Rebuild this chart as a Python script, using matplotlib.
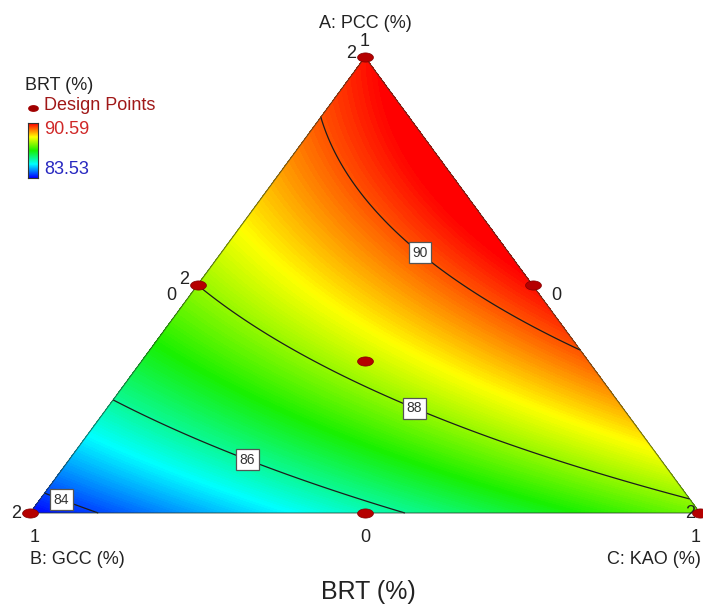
import numpy as np
import matplotlib
matplotlib.use("Agg")
import matplotlib.pyplot as plt
import matplotlib.tri as mtri
from matplotlib.colors import LinearSegmentedColormap, Normalize

plt.rcParams["font.family"] = ["Liberation Sans", "DejaVu Sans"]

# design points: fractions of A (PCC), B (GCC), C (KAO) and BRT (%)
pt_A = [1.0, 0.0, 0.0, 0.5, 0.5, 0.0, 1 / 3]
pt_B = [0.0, 1.0, 0.0, 0.5, 0.0, 0.5, 1 / 3]
pt_C = [0.0, 0.0, 1.0, 0.0, 0.5, 0.5, 1 / 3]
pt_brt = [90.45, 83.53, 87.75, 88.0, 90.5, 85.75, 88.3]
pt_reps = [2, 2, 2, 2, 1, 1, 1]

brt_min, brt_max = 83.53, 90.59
contour_levels = [84, 86, 88, 90]
label_spots_px = [(64, 493), (250, 453), (417, 402), (424, 248)]  # where the boxed labels sit

# quadratic Scheffe model from vertices + edge midpoints
yA, yB, yC, yAB, yAC, yBC = pt_brt[:6]
bAB = 4 * yAB - 2 * (yA + yB)
bAC = 4 * yAC - 2 * (yA + yC)
bBC = 4 * yBC - 2 * (yB + yC)


def brt(a, b, c):
    return yA * a + yB * b + yC * c + bAB * a * b + bAC * a * c + bBC * b * c


# image px -> data (B at (0,0), C at (1,0), A at (0.5,1))
X0, X1, YB, YT = 30, 700, 513, 57
W, H = 703, 606


def px2data(px, py):
    return (px - X0) / (X1 - X0), (YB - py) / (YB - YT)


n = 120
aa, bb = [], []
for i in range(n + 1):
    for j in range(n + 1 - i):
        aa.append(i / n)
        bb.append(j / n)
aa = np.array(aa)
bb = np.array(bb)
cc = 1 - aa - bb
gx = cc + aa / 2
gy = aa
z = brt(aa, bb, cc)
tri = mtri.Triangulation(gx, gy)

cmap = LinearSegmentedColormap.from_list(
    "de", ["#0000ff", "#00ffff", "#18f000", "#ffff00", "#ff0000"])
norm = Normalize(brt_min, brt_max)

fig = plt.figure(figsize=(W / 100, H / 100), dpi=100)
ax = fig.add_axes([0, 0, 1, 1])
ax.set_xlim(*[px2data(p, 0)[0] for p in (0, W)])
ax.set_ylim(px2data(0, H)[1], px2data(0, 0)[1])
ax.axis("off")

ax.tricontourf(tri, z, levels=np.linspace(z.min(), z.max(), 160), cmap=cmap, norm=norm)
cs = ax.tricontour(tri, z, levels=contour_levels, colors="#1c1c1c", linewidths=0.9)
labels = ax.clabel(cs, fmt="%d", inline=False, fontsize=10,
                   manual=[px2data(*p) for p in label_spots_px])
for t in labels:
    t.set_rotation(0)
    t.set_color("#333333")
    t.set_bbox(dict(boxstyle="square,pad=0.25", fc="white", ec="#555555", lw=0.9))

ax.plot([0, 1, 0.5, 0], [0, 0, 1, 0], color="#2a3a2a", lw=0.8, alpha=0.7)

# design points
th = np.linspace(0, 2 * np.pi, 40)
ell = np.column_stack([np.cos(th), 0.58 * np.sin(th)])
px_pts = np.array(pt_C) + np.array(pt_A) / 2
py_pts = np.array(pt_A)
ax.scatter(px_pts, py_pts, marker=ell, s=130, c="#b50000", edgecolors="#800000",
           linewidths=0.5, zorder=5, clip_on=False)

fs = 13
tk = dict(fontsize=fs, color="#222222", textcoords="offset pixels", ha="center", va="center")
# replicate counts
for a, b, c, r in zip(pt_A, pt_B, pt_C, pt_reps):
    if r > 1:
        off = (-14, 3) if b < 1 else (-14, 0)
        if c == 1:
            off = (-10, 0)
        if a == 0.5:
            off = (-13, 6)
        ax.annotate(str(r), (c + a / 2, a), xytext=off, **tk)

# vertex / edge ticks and component titles
ax.annotate("1", (0.5, 1), xytext=(0, 15), **tk)
ax.annotate("A: PCC (%)", (0.5, 1), xytext=(0, 33), **tk)
ax.annotate("0", (0.5, 0), xytext=(0, -24), **tk)
ax.annotate("1", (0, 0), xytext=(5, -24), **tk)
ax.annotate("B: GCC (%)", (0, 0), xytext=(0, -47), **{**tk, "ha": "left"})
ax.annotate("0", (0.75, 0.5), xytext=(24, -11), **tk)
ax.annotate("1", (1, 0), xytext=(-4, -24), **tk)
ax.annotate("C: KAO (%)", (1, 0), xytext=(-93, -47), **{**tk, "ha": "left"})
ax.annotate("0", (0.25, 0.5), xytext=(-26, -11), **tk)

fig.text(368 / W, 1 - 592 / H, "BRT (%)", fontsize=18, color="#222222", ha="center", va="center")

# legend
fig.text(25 / W, 1 - 86 / H, "BRT (%)", fontsize=fs, color="#222222", va="center")
fig.text(44 / W, 1 - 106 / H, "Design Points", fontsize=fs, color="#a01818", va="center")
ax.scatter([33 / W], [1 - 108 / H], transform=fig.transFigure, marker=ell, s=45,
           c="#a00000", clip_on=False)
fig.text(44 / W, 1 - 129 / H, "%.2f" % brt_max, fontsize=fs, color="#d02828", va="center")
fig.text(44 / W, 1 - 170 / H, "%.2f" % brt_min, fontsize=fs, color="#2828c0", va="center")
cax = fig.add_axes([28 / W, 1 - 178 / H, 10 / W, 55 / H])
cax.imshow(np.linspace(1, 0, 100)[:, None], aspect="auto", cmap=cmap)
cax.set_xticks([])
cax.set_yticks([])
for s in cax.spines.values():
    s.set_color("#333333")
    s.set_linewidth(0.8)

fig.savefig("out.png", dpi=100)
